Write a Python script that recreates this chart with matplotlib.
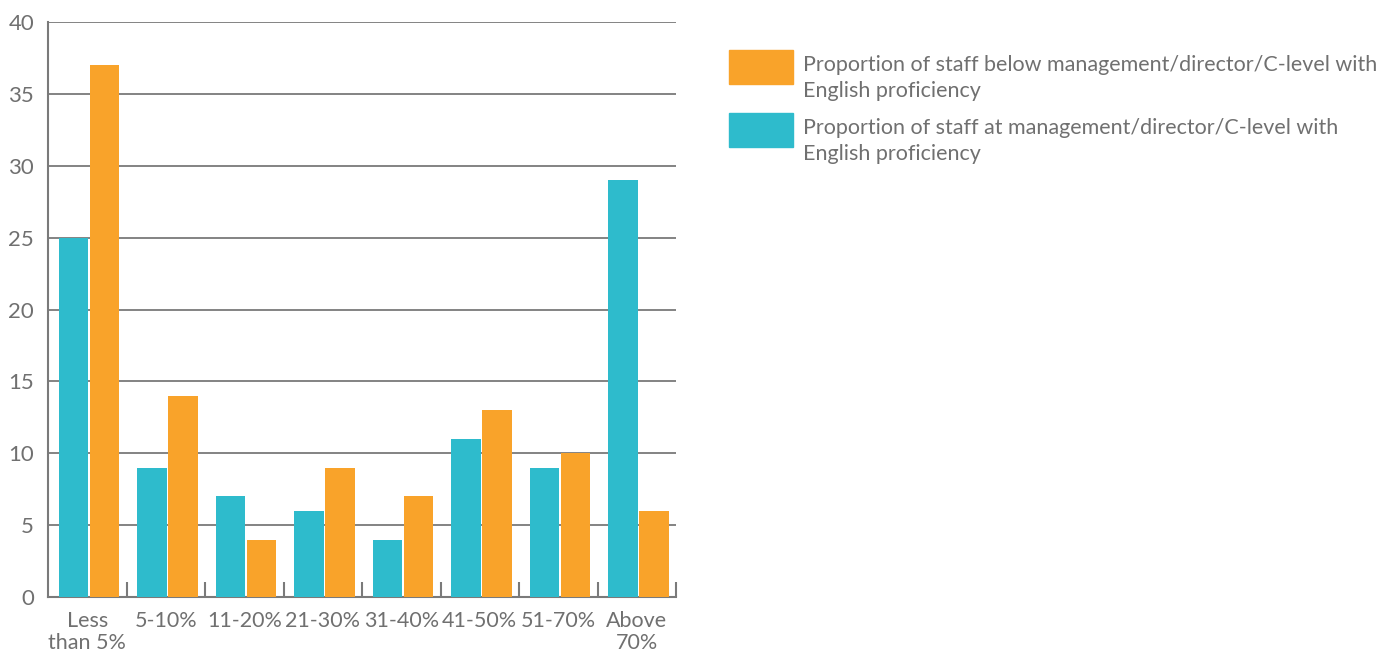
import matplotlib
matplotlib.use("Agg")
import matplotlib.pyplot as plt
from matplotlib.patches import Rectangle
import numpy as np

categories = ["Less\nthan 5%", "5-10%", "11-20%", "21-30%", "31-40%", "41-50%", "51-70%", "Above\n70%"]
mgmt = [25, 9, 7, 6, 4, 11, 9, 29]
below = [37, 14, 4, 9, 7, 13, 10, 6]
label_below = "Proportion of staff below management/director/C-level with\nEnglish proficiency"
label_mgmt = "Proportion of staff at management/director/C-level with\nEnglish proficiency"

TEAL = "#2EBBCC"
ORANGE = "#F9A32A"
TXT = "#707070"
GRID = "#7a7a7a"

plt.rcParams['font.family'] = ['Lato', 'DejaVu Sans']

fig = plt.figure(figsize=(13.86, 6.53), dpi=100)
W, H = 1386, 653
ax = fig.add_axes([48 / W, 1 - 597 / H, (676 - 48) / W, (597 - 22) / H])

x = np.arange(len(categories))
bw = 0.37
ax.bar(x - 0.175, mgmt, width=bw, color=TEAL, zorder=3)
ax.bar(x + 0.22, below, width=bw, color=ORANGE, zorder=3)

ax.set_xlim(-0.5, len(categories) - 0.5)
ax.set_ylim(0, 40)
ax.set_yticks(range(0, 41, 5))
ax.yaxis.grid(True, color=GRID, linewidth=1.3, zorder=0)
ax.set_axisbelow(True)
ax.tick_params(axis='y', length=0, labelsize=16, labelcolor=TXT, pad=10)

ax.set_xticks(x)
ax.set_xticklabels(categories, fontsize=15.5, color=TXT, linespacing=1.12)
ax.tick_params(axis='x', which='major', length=0, pad=10)
ax.set_xticks(np.arange(0.5, len(categories) - 0.5 + 0.01, 1), minor=True)
ax.tick_params(axis='x', which='minor', length=11, direction='in', color=GRID, width=1.5)

for s in ['top', 'right']:
    ax.spines[s].set_visible(False)
for s in ['left', 'bottom']:
    ax.spines[s].set_color(GRID)
    ax.spines[s].set_linewidth(1.5)

# legend
for (y0, col, lab) in [(50, ORANGE, label_below), (113, TEAL, label_mgmt)]:
    fig.add_artist(Rectangle((729 / W, 1 - (y0 + 34) / H), 64 / W, 34 / H,
                             transform=fig.transFigure, color=col))
    fig.text(803 / W, 1 - (y0 + 5) / H, lab, fontsize=15.5, color=TXT,
             va='top', ha='left', linespacing=1.35)

fig.savefig("out.png", dpi=100)
